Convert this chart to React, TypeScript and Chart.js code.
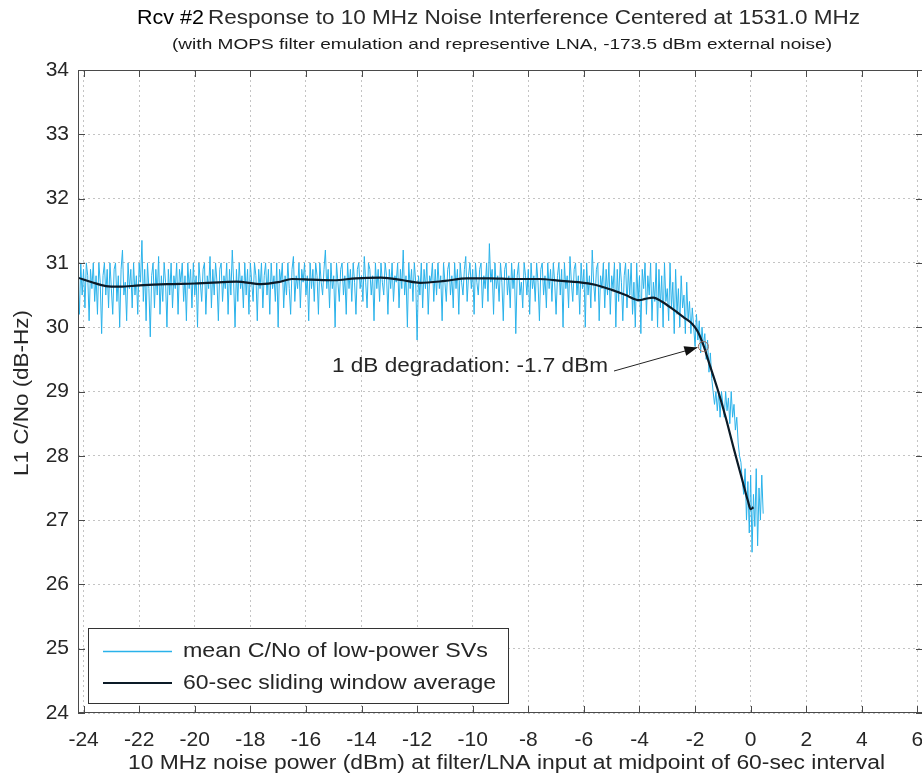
import React, { useEffect, useRef } from "react";
import { Chart, registerables } from "chart.js";

Chart.register(...registerables);

// ---- data ----
const TITLE_PREFIX = "Rcv #2";
const TITLE_MAIN = "Response to 10 MHz Noise Interference Centered at 1531.0 MHz";
const SUBTITLE = "(with MOPS filter emulation and representive LNA, -173.5 dBm external noise)";
const X_TITLE = "10 MHz noise power (dBm) at filter/LNA input at midpoint of 60-sec interval";
const Y_TITLE = "L1 C/No (dB-Hz)";
const LEGEND_LABELS = ["mean C/No of low-power SVs", "60-sec sliding window average"];
const ANNOTATION = "1 dB degradation: -1.7 dBm";

const X_MIN = -24.2;
const X_MAX = 6.2;
const Y_MIN = 24;
const Y_MAX = 34;
const xTicks = [-24, -22, -20, -18, -16, -14, -12, -10, -8, -6, -4, -2, 0, 2, 4, 6];
const yTicks = [24, 25, 26, 27, 28, 29, 30, 31, 32, 33, 34];

// raw C/No samples, evenly spaced in noise power (20 per dB row)
const cyanStart = -24.2;
const cyanStep = 0.05;
const cyanValues = [
  30.7, 30.2, 31.0, 30.5, 30.9, 30.3, 31.0, 30.8, 30.1, 30.9, 30.6, 31.0, 30.4, 30.8, 30.2, 31.0, 30.7, 29.9, 30.8, 31.0,
  30.5, 30.9, 30.3, 31.0, 30.6, 30.2, 30.9, 31.0, 30.4, 30.8, 30.0, 30.9, 31.2, 30.5, 30.7, 30.1, 31.0, 30.6, 30.9, 30.3,
  31.0, 30.5, 30.8, 30.2, 31.0, 30.7, 31.35, 30.4, 30.9, 30.1, 31.0, 30.6, 29.85, 30.8, 31.0, 30.3, 30.9, 30.5, 31.1, 30.2,
  30.8, 30.4, 31.0, 30.7, 30.0, 30.9, 30.5, 31.0, 30.3, 30.8, 30.6, 31.0, 30.2, 30.9, 30.7, 31.0, 30.4, 30.8, 30.1, 31.0,
  30.6, 30.9, 30.3, 31.0, 30.5, 30.8, 30.0, 31.0, 30.7, 30.4, 30.9, 31.0, 30.2, 30.8, 30.6, 31.1, 30.3, 30.9, 30.5, 31.0,
  30.7, 30.1, 30.9, 31.0, 30.4, 30.8, 30.6, 31.0, 30.2, 30.9, 30.5, 31.2, 30.7, 30.0, 30.9, 30.4, 31.0, 30.6, 30.8, 30.3,
  31.0, 30.5, 30.9, 30.2, 31.0, 30.7, 30.4, 31.0, 30.8, 30.1, 30.9, 30.6, 31.0, 30.3, 30.8, 31.0, 30.5, 30.9, 30.2, 31.0,
  30.6, 30.8, 30.4, 31.0, 30.0, 30.9, 30.7, 31.0, 30.3, 30.8, 30.5, 31.0, 30.6, 30.2, 30.9, 31.1, 30.4, 30.8, 30.6, 31.0,
  30.3, 30.9, 30.7, 31.0, 30.5, 30.8, 30.1, 31.0, 30.6, 30.9, 30.4, 31.0, 30.8, 30.2, 31.0, 30.7, 30.5, 30.9, 31.2, 30.6,
  30.9, 30.3, 31.0, 30.6, 30.8, 30.0, 31.0, 30.7, 30.4, 30.9, 31.0, 30.5, 30.8, 30.2, 31.0, 30.6, 30.9, 30.4, 31.0, 30.7,
  30.2, 30.9, 31.0, 30.6, 30.8, 30.4, 31.1, 30.7, 30.3, 31.0, 30.9, 30.5, 30.8, 30.1, 31.0, 30.6, 30.9, 30.4, 31.0, 30.7,
  30.5, 31.0, 30.8, 30.2, 30.9, 30.6, 31.0, 30.4, 30.8, 30.7, 31.0, 30.3, 30.9, 30.6, 31.2, 30.5, 30.8, 30.0, 31.0, 30.6,
  30.9, 30.4, 31.0, 30.7, 29.8, 30.8, 30.5, 31.0, 30.3, 30.9, 30.6, 31.0, 30.2, 30.8, 30.7, 31.0, 30.4, 30.9, 30.5, 31.0,
  30.6, 30.8, 30.1, 31.0, 30.7, 30.4, 30.9, 31.0, 30.5, 30.8, 30.3, 31.0, 30.6, 30.9, 30.2, 31.0, 30.7, 30.5, 30.9, 31.1,
  30.4, 30.8, 31.0, 30.6, 30.9, 30.2, 31.0, 30.7, 30.5, 30.9, 31.0, 30.3, 30.8, 30.6, 31.0, 30.4, 31.3, 30.7, 30.9, 30.2,
  31.0, 30.6, 30.8, 30.4, 31.0, 30.7, 30.1, 30.9, 31.0, 30.5, 30.8, 30.3, 31.0, 30.6, 30.9, 29.9, 30.8, 31.0, 30.5, 30.7,
  30.3, 31.0, 30.8, 30.5, 30.9, 30.2, 31.0, 30.6, 30.8, 30.4, 31.0, 30.7, 30.1, 30.9, 31.0, 30.5, 30.8, 30.3, 31.0, 30.6,
  30.9, 30.4, 31.0, 30.7, 30.2, 30.8, 31.0, 30.5, 30.9, 30.0, 31.0, 30.6, 30.8, 30.3, 31.1, 30.7, 30.4, 30.9, 31.0, 30.5,
  30.8, 30.2, 31.0, 30.6, 30.9, 30.0, 31.0, 30.5, 30.8, 30.3, 31.2, 30.7, 30.4, 30.9, 31.0, 30.1, 30.8, 30.6, 31.0, 30.3,
  30.9, 30.5, 31.0, 30.2, 30.8, 30.6, 31.0, 30.0, 30.9, 30.4, 31.0, 30.7, 30.1, 30.8, 31.0, 30.3, 30.9, 30.5, 31.0, 30.2,
  30.7, 30.0, 31.0, 30.4, 30.8, 29.9, 30.9, 30.6, 31.0, 30.2, 30.8, 30.5, 31.0, 30.1, 30.7, 30.4, 31.0, 30.0, 30.9, 30.3,
  30.8, 30.0, 31.0, 30.4, 30.6, 30.1, 31.0, 30.3, 30.7, 29.9, 30.9, 30.2, 30.6, 30.0, 30.8, 30.3, 30.5, 29.9, 30.7, 30.1,
  30.4, 29.9, 30.3, 30.0, 29.7, 30.2, 29.8, 30.1, 29.6, 30.0, 29.7, 29.9, 29.5, 29.8, 29.3, 29.6, 29.2, 29.0, 28.8, 29.0,
  28.7, 29.0, 28.6, 29.0, 28.8, 28.6, 29.0, 28.7, 28.9, 28.5, 29.0, 28.6, 28.8, 28.4, 28.6, 28.2, 28.0, 27.9, 27.6, 27.4,
  27.8, 27.0, 27.6, 26.8, 27.7, 26.5, 27.4, 26.9, 27.8, 26.6, 27.5, 27.0, 27.7, 27.1,
];

// 60-sec sliding window average
const avgX = [
  -24.2, -23.7, -23.2, -22.7, -22.0, -21.0, -20.0, -19.0, -18.5, -17.6, -17.0, -16.5, -15.8, -15.0, -14.2, -13.3, -12.5,
  -11.9, -11.0, -10.2, -9.4, -8.5, -7.6, -6.8, -6.2, -5.6, -5.0, -4.5, -4.0, -3.8, -3.5, -3.2, -2.8, -2.4, -2.1, -1.9,
  -1.7, -1.5, -1.2, -0.9, -0.6, -0.3, -0.1, 0.0, 0.1,
];
const avgY = [
  30.77, 30.7, 30.64, 30.63, 30.65, 30.67, 30.68, 30.7, 30.71, 30.67, 30.7, 30.75, 30.74, 30.73, 30.76, 30.77, 30.73,
  30.69, 30.72, 30.76, 30.76, 30.75, 30.75, 30.72, 30.7, 30.66, 30.58, 30.5, 30.42, 30.44, 30.46, 30.4, 30.28, 30.15,
  30.05, 29.93, 29.72, 29.45, 29.05, 28.6, 28.1, 27.62, 27.3, 27.17, 27.2,
];

const markerX = -1.7;
const markerY = 29.7;

// ---- styles ----
const CANVAS_W = 929;
const CANVAS_H = 780;
const CYAN = "#2ab2ea";
const DARK = "#0c1b27";
const TEXT = "#262626";
const FONT = "'Liberation Sans', Arial, sans-serif";

function fitText(ctx: CanvasRenderingContext2D, text: string, size: number, x0: number, x1: number, yc: number, color: string) {
  ctx.save();
  ctx.font = `${size}px ${FONT}`;
  const w = ctx.measureText(text).width;
  const sx = (x1 - x0) / w;
  ctx.translate(x0, yc);
  ctx.scale(sx, 1);
  ctx.fillStyle = color;
  ctx.textBaseline = "middle";
  ctx.textAlign = "left";
  ctx.fillText(text, 0, 0);
  ctx.restore();
}

const decorPlugin = {
  id: "decor",
  afterDraw(chart: any) {
    const ctx: CanvasRenderingContext2D = chart.ctx;
    const { left, right, top, bottom } = chart.chartArea;
    const xs = chart.scales.x;
    const ys = chart.scales.y;

    // box
    ctx.save();
    ctx.strokeStyle = "#4a4a4a";
    ctx.lineWidth = 1;
    ctx.strokeRect(left + 0.5, top + 0.5, right - left - 1, bottom - top - 1);
    // inward ticks
    ctx.beginPath();
    for (const v of xTicks) {
      const px = Math.round(xs.getPixelForValue(v)) + 0.5;
      ctx.moveTo(px, bottom);
      ctx.lineTo(px, bottom - 7);
      ctx.moveTo(px, top);
      ctx.lineTo(px, top + 7);
    }
    for (const v of yTicks) {
      const py = Math.round(ys.getPixelForValue(v)) + 0.5;
      ctx.moveTo(left, py);
      ctx.lineTo(left + 7, py);
      ctx.moveTo(right, py);
      ctx.lineTo(right - 7, py);
    }
    ctx.stroke();
    ctx.restore();

    // annotation arrow
    const mx = xs.getPixelForValue(markerX);
    const my = ys.getPixelForValue(markerY);
    const sx0 = 614, sy0 = 371;
    const tx = mx - 6, ty = my + 1;
    ctx.save();
    ctx.strokeStyle = "#222";
    ctx.lineWidth = 1;
    ctx.beginPath();
    ctx.moveTo(sx0, sy0);
    ctx.lineTo(tx, ty);
    ctx.stroke();
    const ang = Math.atan2(ty - sy0, tx - sx0);
    const L = 13, W = 5;
    ctx.fillStyle = "#111";
    ctx.beginPath();
    ctx.moveTo(tx, ty);
    ctx.lineTo(tx - L * Math.cos(ang) + W * Math.sin(ang), ty - L * Math.sin(ang) - W * Math.cos(ang));
    ctx.lineTo(tx - L * Math.cos(ang) - W * Math.sin(ang), ty - L * Math.sin(ang) + W * Math.cos(ang));
    ctx.closePath();
    ctx.fill();
    ctx.restore();
    fitText(ctx, ANNOTATION, 21, 332, 608, 366, TEXT);

    // legend
    ctx.save();
    ctx.fillStyle = "#ffffff";
    ctx.fillRect(88, 628, 420, 75);
    ctx.strokeStyle = "#333";
    ctx.lineWidth = 1;
    ctx.strokeRect(88.5, 628.5, 420, 75);
    ctx.strokeStyle = CYAN;
    ctx.lineWidth = 1.5;
    ctx.beginPath();
    ctx.moveTo(103, 651.5);
    ctx.lineTo(172, 651.5);
    ctx.stroke();
    ctx.strokeStyle = DARK;
    ctx.lineWidth = 2;
    ctx.beginPath();
    ctx.moveTo(103, 683);
    ctx.lineTo(172, 683);
    ctx.stroke();
    ctx.restore();
    fitText(ctx, LEGEND_LABELS[0], 21, 183, 488, 651, TEXT);
    fitText(ctx, LEGEND_LABELS[1], 21, 183, 496, 683, TEXT);

    // titles
    fitText(ctx, TITLE_PREFIX, 20, 137, 204, 18, "#000");
    fitText(ctx, TITLE_MAIN, 20, 208, 860, 18, "#2a2a2a");
    fitText(ctx, SUBTITLE, 15, 172, 832, 45, "#1a1a1a");
    fitText(ctx, X_TITLE, 20, 128, 885, 763, TEXT);

    // y title (rotated)
    ctx.save();
    ctx.translate(22, 476);
    ctx.rotate(-Math.PI / 2);
    fitText(ctx, Y_TITLE, 20, 0, 166, 0, TEXT);
    ctx.restore();
  },
};

export default function App() {
  const ref = useRef<HTMLCanvasElement | null>(null);
  useEffect(() => {
    if (!ref.current) return;
    const cyanData = cyanValues.map((v, i) => ({ x: cyanStart + i * cyanStep, y: v }));
    const avgData = avgX.map((x, i) => ({ x, y: avgY[i] }));
    const chart = new Chart(ref.current, {
      type: "line",
      data: {
        datasets: [
          {
            label: "marker",
            data: [{ x: markerX, y: markerY }],
            showLine: false,
            pointRadius: 5,
            pointBorderColor: "#9a6a5a",
            pointBackgroundColor: "rgba(255,255,255,0)",
            pointBorderWidth: 1,
          },
          {
            label: LEGEND_LABELS[1],
            data: avgData,
            borderColor: DARK,
            borderWidth: 2.2,
            pointRadius: 0,
            cubicInterpolationMode: "monotone",
          },
          {
            label: LEGEND_LABELS[0],
            data: cyanData,
            borderColor: CYAN,
            borderWidth: 1,
            pointRadius: 0,
            tension: 0,
          },
        ],
      },
      options: {
        animation: false,
        responsive: false,
        maintainAspectRatio: false,
        layout: { padding: { left: 0, right: 1, top: 70, bottom: 0 } },
        plugins: { legend: { display: false }, tooltip: { enabled: false }, title: { display: false } },
        scales: {
          x: {
            type: "linear",
            min: X_MIN,
            max: X_MAX,
            afterBuildTicks: (s: any) => {
              s.ticks = xTicks.map((v) => ({ value: v }));
            },
            afterFit: (s: any) => {
              s.height = 67;
              s.paddingLeft = 0;
              s.paddingRight = 0;
            },
            grid: { color: "#c4c4c4", drawTicks: false, lineWidth: 1 },
            border: { display: false, dash: [2, 3] },
            ticks: { color: TEXT, font: { family: FONT, size: 21 }, padding: 15, maxRotation: 0, autoSkip: false },
          },
          y: {
            type: "linear",
            min: Y_MIN,
            max: Y_MAX,
            afterBuildTicks: (s: any) => {
              s.ticks = yTicks.map((v) => ({ value: v }));
            },
            afterFit: (s: any) => {
              s.width = 78;
              s.paddingTop = 0;
              s.paddingBottom = 0;
            },
            grid: { color: "#c4c4c4", drawTicks: false, lineWidth: 1 },
            border: { display: false, dash: [2, 3] },
            ticks: { color: TEXT, font: { family: FONT, size: 21 }, padding: 9, autoSkip: false },
          },
        },
      },
      plugins: [decorPlugin],
    });
    return () => chart.destroy();
  }, []);
  return (
    <div style={{ position: "fixed", left: 0, top: 0, width: 922, height: 780, overflow: "hidden", background: "#fff" }}>
      <canvas ref={ref} width={CANVAS_W} height={CANVAS_H} style={{ width: CANVAS_W, height: CANVAS_H, display: "block" }} />
    </div>
  );
}
